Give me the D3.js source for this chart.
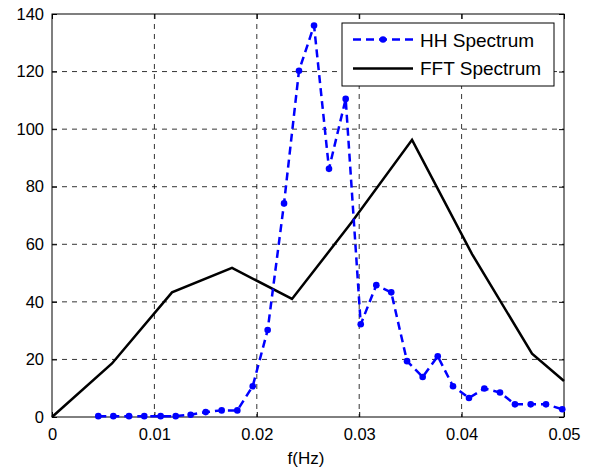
<!DOCTYPE html>
<html><head><meta charset="utf-8">
<script src="https://cdn.jsdelivr.net/npm/d3@7"></script>
<style>body{margin:0;background:#fff}text{font-family:"Liberation Sans",Arial,sans-serif}</style>
</head><body>
<svg id="c" width="595" height="471"></svg>
<script>
const hhFreq = [0.00452,0.00599,0.00752,0.00901,0.01061,0.01208,0.01354,0.01501,0.01657,0.01810,0.01960,0.02106,0.02266,0.02412,0.02559,0.02705,0.02868,0.03015,0.03167,0.03313,0.03467,0.03620,0.03767,0.03916,0.04072,0.04222,0.04375,0.04521,0.04675,0.04824,0.04983];
const hhValues = [0.3,0.3,0.3,0.3,0.3,0.3,0.8,1.7,2.3,2.3,10.7,30.2,74.2,120.3,136,86.2,110.5,32.2,45.8,43.3,19.4,13.9,21.1,10.7,6.6,9.9,8.5,4.4,4.4,4.4,2.7];
const fftFreq = [0,0.00586,0.01172,0.01758,0.02344,0.0293,0.03516,0.04102,0.04688,0.05];
const fftValues = [0,18.6,43.3,51.8,41.0,67.8,96.3,56.6,22.0,12.5];
const xTicks = [0,0.01,0.02,0.03,0.04,0.05];
const yTicks = [0,20,40,60,80,100,120,140];
const xLabels = ["0","0.01","0.02","0.03","0.04","0.05"];
const seriesNames = ["HH Spectrum","FFT Spectrum"];

const svg = d3.select("#c");
const L=52,R=564,T=14,B=417;
const x = d3.scaleLinear().domain([0,0.05]).range([L,R]);
const y = d3.scaleLinear().domain([0,140]).range([B,T]);
const FS = 16.5;

// grid
const g = svg.append("g");
g.selectAll(".gx").data(xTicks.slice(1,-1)).enter().append("line")
 .attr("x1",d=>x(d)).attr("x2",d=>x(d)).attr("y1",T).attr("y2",B)
 .attr("stroke","#000").attr("stroke-width",0.8).attr("stroke-dasharray","5,5");
g.selectAll(".gy").data(yTicks.slice(1,-1)).enter().append("line")
 .attr("x1",L).attr("x2",R).attr("y1",d=>y(d)).attr("y2",d=>y(d))
 .attr("stroke","#000").attr("stroke-width",0.8).attr("stroke-dasharray","5,5");

// axes
const xa = svg.append("g").attr("transform",`translate(0,${B})`)
 .call(d3.axisBottom(x).tickValues(xTicks).tickFormat((d,i)=>xLabels[i]).tickSizeInner(-5).tickSizeOuter(0).tickPadding(8));
const xt = svg.append("g").attr("transform",`translate(0,${T})`)
 .call(d3.axisTop(x).tickValues(xTicks).tickFormat("").tickSizeInner(-5).tickSizeOuter(0));
const ya = svg.append("g").attr("transform",`translate(${L},0)`)
 .call(d3.axisLeft(y).tickValues(yTicks).tickSizeInner(-5).tickSizeOuter(0).tickPadding(8));
const yr = svg.append("g").attr("transform",`translate(${R},0)`)
 .call(d3.axisRight(y).tickValues(yTicks).tickFormat("").tickSizeInner(-5).tickSizeOuter(0));
[xa,xt,ya,yr].forEach(a=>{
  a.select(".domain").remove();
  a.selectAll("line").attr("stroke","#000");
  a.selectAll("text").attr("font-size",FS).attr("fill","#000").attr("font-family","Liberation Sans, Arial, sans-serif");
});
xa.selectAll("text").attr("dy",null).attr("y",23);
svg.append("rect").attr("x",L).attr("y",T).attr("width",R-L).attr("height",B-T)
 .attr("fill","none").attr("stroke","#000").attr("stroke-width",1);

svg.append("text").attr("x",(L+R)/2 - 2).attr("y",464).attr("text-anchor","middle")
 .attr("font-size",17).text("f(Hz)");

// lines
const lineHH = d3.line().x((d,i)=>x(hhFreq[i])).y(d=>y(d));
const lineFFT = d3.line().x((d,i)=>x(fftFreq[i])).y(d=>y(d));
svg.append("path").datum(fftValues).attr("d",lineFFT).attr("fill","none").attr("stroke","#000").attr("stroke-width",2.5);
svg.append("path").datum(hhValues).attr("d",lineHH).attr("fill","none").attr("stroke","#0000ff").attr("stroke-width",2.5).attr("stroke-dasharray","8,5");
svg.selectAll(".pt").data(hhValues).enter().append("circle")
 .attr("cx",(d,i)=>x(hhFreq[i])).attr("cy",d=>y(d)).attr("r",3.3).attr("fill","#0000ff");

// legend
const lg = svg.append("g");
lg.append("rect").attr("x",342).attr("y",23).attr("width",212).attr("height",63).attr("fill","#fff").attr("stroke","#000").attr("stroke-width",1);
lg.append("line").attr("x1",353).attr("x2",413).attr("y1",39.5).attr("y2",39.5).attr("stroke","#0000ff").attr("stroke-width",2.5).attr("stroke-dasharray","8,5");
lg.append("circle").attr("cx",383).attr("cy",39.5).attr("r",3.3).attr("fill","#0000ff");
lg.append("line").attr("x1",353).attr("x2",413).attr("y1",68.5).attr("y2",68.5).attr("stroke","#000").attr("stroke-width",2.5);
lg.selectAll(".lt").data(seriesNames).enter().append("text")
 .attr("x",420).attr("y",(d,i)=>46.5+i*28.5).attr("font-size",19).text(d=>d);
</script>
</body></html>
